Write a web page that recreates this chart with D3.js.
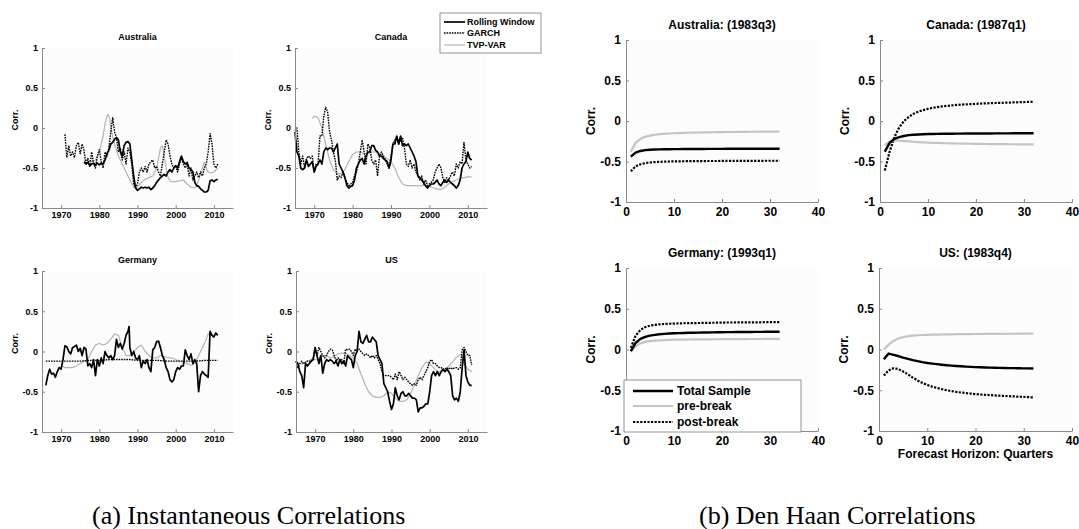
<!DOCTYPE html>
<html>
<head>
<meta charset="utf-8">
<script src="https://cdn.jsdelivr.net/npm/d3@7"></script>
<style>
  body { margin: 0; background: #fff; }
  svg text { font-family: "Liberation Sans", Arial, sans-serif; font-weight: bold; }
  svg text.caption { font-family: "Liberation Serif", "Times New Roman", serif; font-weight: normal; }
</style>
</head>
<body>
<svg id="chart" width="1079" height="529"></svg>
<script>
// ---- tick labels / categories ----
const yearTicks = [1970, 1980, 1990, 2000, 2010];
const horizonTicks = [0, 10, 20, 30, 40];
const corrTicks = [-1, -0.5, 0, 0.5, 1];
const instNames = ["Rolling Window", "GARCH", "TVP-VAR"];
const dhNames = ["Total Sample", "pre-break", "post-break"];
const instTitles = ["Australia", "Canada", "Germany", "US"];
const dhTitles = ["Australia: (1983q3)", "Canada: (1987q1)", "Germany: (1993q1)", "US: (1983q4)"];
const horizons = d3.range(1, 33);

// ---- instantaneous correlations, [year, corr] ----
const ausRolling = [[1976,-0.42],[1976.5,-0.45],[1977,-0.43],[1977.5,-0.47],[1978,-0.45],[1978.5,-0.44],[1979,-0.46],[1979.5,-0.44],[1980,-0.46],[1980.5,-0.44],[1981,-0.45],[1981.5,-0.4],[1982,-0.32],[1982.5,-0.28],[1983,-0.2],[1983.5,-0.18],[1984,-0.14],[1984.5,-0.12],[1985,-0.15],[1985.5,-0.3],[1986,-0.35],[1986.5,-0.22],[1987,-0.18],[1987.5,-0.17],[1988,-0.2],[1988.5,-0.4],[1989,-0.6],[1989.5,-0.75],[1990,-0.78],[1990.5,-0.76],[1991,-0.74],[1991.5,-0.75],[1992,-0.74],[1992.5,-0.75],[1993,-0.74],[1993.5,-0.77],[1994,-0.75],[1994.5,-0.72],[1995,-0.68],[1995.5,-0.65],[1996,-0.62],[1996.5,-0.6],[1997,-0.58],[1997.5,-0.6],[1998,-0.55],[1998.5,-0.52],[1999,-0.55],[1999.5,-0.5],[2000,-0.47],[2000.5,-0.5],[2001,-0.42],[2001.5,-0.35],[2002,-0.42],[2002.5,-0.45],[2003,-0.43],[2003.5,-0.5],[2004,-0.52],[2004.5,-0.55],[2005,-0.68],[2005.5,-0.72],[2006,-0.73],[2006.5,-0.76],[2007,-0.78],[2007.5,-0.8],[2008,-0.8],[2008.5,-0.78],[2009,-0.66],[2009.5,-0.65],[2010,-0.67],[2010.5,-0.65],[2011,-0.64]];
const ausGarch = [[1971,-0.08],[1971.5,-0.37],[1972,-0.22],[1972.5,-0.35],[1973,-0.3],[1973.5,-0.37],[1974,-0.22],[1974.5,-0.18],[1975,-0.32],[1975.5,-0.2],[1976,-0.28],[1976.5,-0.45],[1977,-0.38],[1977.5,-0.48],[1978,-0.3],[1978.5,-0.45],[1979,-0.5],[1979.5,-0.35],[1980,-0.27],[1980.5,-0.42],[1981,-0.5],[1981.5,-0.3],[1982,-0.35],[1982.5,-0.25],[1983,-0.05],[1983.5,0.13],[1984,-0.05],[1984.5,-0.12],[1985,-0.3],[1985.5,-0.25],[1986,-0.4],[1986.5,-0.3],[1987,-0.45],[1987.5,-0.25],[1988,-0.3],[1988.5,-0.45],[1989,-0.7],[1989.5,-0.75],[1990,-0.7],[1990.5,-0.55],[1991,-0.5],[1991.5,-0.55],[1992,-0.48],[1992.5,-0.55],[1993,-0.45],[1993.5,-0.42],[1994,-0.4],[1994.5,-0.5],[1995,-0.48],[1995.5,-0.55],[1996,-0.6],[1996.5,-0.45],[1997,-0.3],[1997.5,-0.15],[1998,-0.2],[1998.5,-0.35],[1999,-0.45],[1999.5,-0.5],[2000,-0.48],[2000.5,-0.55],[2001,-0.45],[2001.5,-0.38],[2002,-0.45],[2002.5,-0.5],[2003,-0.45],[2003.5,-0.6],[2004,-0.5],[2004.5,-0.65],[2005,-0.6],[2005.5,-0.55],[2006,-0.62],[2006.5,-0.55],[2007,-0.6],[2007.5,-0.5],[2008,-0.45],[2008.5,-0.3],[2009,-0.07],[2009.5,-0.2],[2010,-0.45],[2010.5,-0.5],[2011,-0.45]];
const ausTvp = [[1977,-0.4],[1978,-0.42],[1979,-0.4],[1980,-0.3],[1981,-0.1],[1981.5,0.05],[1982,0.15],[1982.3,0.17],[1982.7,0.12],[1983,0.0],[1983.5,-0.1],[1984,-0.2],[1985,-0.35],[1986,-0.45],[1987,-0.55],[1988,-0.65],[1989,-0.74],[1990,-0.74],[1991,-0.68],[1992,-0.64],[1993,-0.62],[1994,-0.6],[1995,-0.5],[1995.5,-0.38],[1996,-0.25],[1996.5,-0.22],[1997,-0.35],[1997.5,-0.5],[1998,-0.62],[1998.5,-0.66],[1999,-0.67],[2000,-0.67],[2001,-0.66],[2002,-0.65],[2003,-0.7],[2004,-0.74],[2005,-0.75],[2005.5,-0.72],[2006,-0.65],[2006.5,-0.58],[2007,-0.5],[2007.5,-0.43],[2008,-0.5],[2008.5,-0.55],[2009,-0.56],[2010,-0.55],[2011,-0.5]];

const canRolling = [[1965,-0.05],[1965.5,-0.3],[1966,-0.35],[1966.5,-0.5],[1967,-0.52],[1967.5,-0.5],[1968,-0.4],[1968.5,-0.48],[1969,-0.45],[1969.5,-0.42],[1970,-0.55],[1970.5,-0.48],[1971,-0.45],[1971.5,-0.4],[1972,-0.45],[1972.5,-0.3],[1973,-0.25],[1973.5,-0.27],[1974,-0.25],[1974.5,-0.25],[1975,-0.3],[1975.5,-0.25],[1976,-0.2],[1976.5,-0.45],[1977,-0.5],[1977.5,-0.55],[1978,-0.62],[1978.5,-0.72],[1979,-0.75],[1979.5,-0.73],[1980,-0.72],[1980.5,-0.65],[1981,-0.5],[1981.5,-0.45],[1982,-0.4],[1982.5,-0.38],[1983,-0.45],[1983.5,-0.35],[1984,-0.3],[1984.5,-0.3],[1985,-0.22],[1985.5,-0.22],[1986,-0.28],[1986.5,-0.3],[1987,-0.35],[1987.5,-0.35],[1988,-0.38],[1988.5,-0.4],[1989,-0.42],[1989.5,-0.5],[1990,-0.4],[1990.5,-0.2],[1991,-0.2],[1991.5,-0.1],[1992,-0.2],[1992.5,-0.1],[1993,-0.22],[1993.5,-0.2],[1994,-0.22],[1994.5,-0.2],[1995,-0.25],[1995.5,-0.3],[1996,-0.35],[1996.5,-0.42],[1997,-0.6],[1997.5,-0.62],[1998,-0.65],[1998.5,-0.68],[1999,-0.72],[1999.5,-0.75],[2000,-0.72],[2000.5,-0.7],[2001,-0.7],[2001.5,-0.68],[2002,-0.65],[2002.5,-0.7],[2003,-0.72],[2003.5,-0.68],[2004,-0.65],[2004.5,-0.68],[2005,-0.65],[2005.5,-0.68],[2006,-0.7],[2006.5,-0.72],[2007,-0.75],[2007.5,-0.72],[2008,-0.65],[2008.5,-0.5],[2009,-0.45],[2009.5,-0.42],[2010,-0.3],[2010.5,-0.38],[2011,-0.4]];
const canGarch = [[1965,-0.03],[1965.5,0.0],[1966,-0.3],[1966.5,-0.45],[1967,-0.35],[1967.5,-0.5],[1968,-0.38],[1968.5,-0.35],[1969,-0.38],[1969.5,-0.35],[1970,-0.55],[1970.5,-0.45],[1971,-0.45],[1971.5,-0.1],[1972,-0.1],[1972.5,0.15],[1973,0.26],[1973.5,0.2],[1974,-0.05],[1974.5,-0.15],[1975,-0.3],[1975.5,-0.4],[1976,-0.65],[1976.5,-0.6],[1977,-0.62],[1977.5,-0.55],[1978,-0.62],[1978.5,-0.68],[1979,-0.72],[1979.5,-0.7],[1980,-0.68],[1980.5,-0.6],[1981,-0.55],[1981.5,-0.45],[1982,-0.3],[1982.5,-0.15],[1983,-0.3],[1983.5,-0.45],[1984,-0.2],[1984.5,-0.25],[1985,-0.4],[1985.5,-0.45],[1986,-0.4],[1986.5,-0.6],[1987,-0.35],[1987.5,-0.3],[1988,-0.35],[1988.5,-0.4],[1989,-0.45],[1989.5,-0.5],[1990,-0.35],[1990.5,-0.2],[1991,-0.15],[1991.5,-0.12],[1992,-0.2],[1992.5,-0.15],[1993,-0.12],[1993.5,-0.25],[1994,-0.45],[1994.5,-0.48],[1995,-0.4],[1995.5,-0.5],[1996,-0.45],[1996.5,-0.55],[1997,-0.6],[1997.5,-0.65],[1998,-0.6],[1998.5,-0.7],[1999,-0.65],[1999.5,-0.72],[2000,-0.7],[2000.5,-0.68],[2001,-0.65],[2001.5,-0.55],[2002,-0.5],[2002.5,-0.45],[2003,-0.5],[2003.5,-0.62],[2004,-0.68],[2004.5,-0.62],[2005,-0.65],[2005.5,-0.6],[2006,-0.55],[2006.5,-0.6],[2007,-0.45],[2007.5,-0.5],[2008,-0.42],[2008.5,-0.45],[2009,-0.18],[2009.5,-0.4],[2010,-0.45],[2010.5,-0.5],[2011,-0.48]];
const canTvp = [[1969.5,0.12],[1970,0.15],[1971,0.13],[1972,0.0],[1973,-0.2],[1974,-0.4],[1975,-0.52],[1976,-0.57],[1977,-0.57],[1978,-0.52],[1979,-0.42],[1980,-0.33],[1981,-0.3],[1982,-0.3],[1983,-0.32],[1984,-0.32],[1985,-0.3],[1986,-0.3],[1987,-0.32],[1988,-0.35],[1989,-0.38],[1990,-0.42],[1991,-0.5],[1992,-0.62],[1993,-0.7],[1994,-0.72],[1995,-0.72],[1996,-0.72],[1997,-0.72],[1998,-0.72],[1999,-0.72],[2000,-0.73],[2001,-0.75],[2002,-0.76],[2003,-0.77],[2004,-0.74],[2005,-0.7],[2006,-0.67],[2007,-0.65],[2008,-0.63],[2009,-0.62],[2010,-0.61],[2011,-0.61]];

const gerRolling = [[1966,-0.42],[1966.5,-0.3],[1967,-0.22],[1967.5,-0.28],[1968,-0.27],[1968.5,-0.32],[1969,-0.25],[1969.5,-0.2],[1970,-0.22],[1970.5,-0.1],[1971,0.07],[1971.5,0.06],[1972,0.0],[1972.5,-0.03],[1973,0.05],[1973.5,0.06],[1974,0.08],[1974.5,0.0],[1975,0.04],[1975.5,-0.05],[1976,0.05],[1976.5,0.03],[1977,-0.18],[1977.5,-0.15],[1978,-0.2],[1978.5,-0.1],[1979,-0.3],[1979.5,-0.1],[1980,-0.18],[1980.5,-0.08],[1981,-0.15],[1981.5,0.0],[1982,-0.05],[1982.5,-0.08],[1983,-0.05],[1983.5,-0.1],[1984,-0.05],[1984.5,0.15],[1985,0.05],[1985.5,0.1],[1986,0.03],[1986.5,0.1],[1987,0.2],[1987.5,0.25],[1987.8,0.31],[1988,0.05],[1988.5,-0.05],[1989,0.0],[1989.5,-0.08],[1990,-0.1],[1990.5,-0.05],[1991,-0.2],[1991.5,-0.12],[1992,-0.15],[1992.5,-0.1],[1993,-0.2],[1993.5,-0.25],[1994,0.02],[1994.5,0.05],[1995,0.12],[1995.5,0.13],[1996,0.05],[1996.5,-0.05],[1997,-0.1],[1997.5,-0.2],[1998,-0.25],[1998.5,-0.35],[1999,-0.38],[1999.5,-0.35],[2000,-0.25],[2000.5,-0.2],[2001,-0.22],[2001.5,-0.18],[2002,-0.18],[2002.5,0.02],[2003,-0.05],[2003.5,-0.1],[2004,-0.03],[2004.5,-0.15],[2005,-0.1],[2005.5,-0.15],[2006,-0.5],[2006.5,-0.3],[2007,-0.25],[2007.5,-0.28],[2008,-0.3],[2008.5,-0.32],[2009,0.25],[2009.5,0.2],[2010,0.18],[2010.5,0.23],[2011,0.2]];
const gerGarch = [[1966,-0.12],[1968,-0.12],[1970,-0.12],[1972,-0.12],[1975,-0.12],[1978,-0.11],[1980,-0.11],[1983,-0.1],[1985,-0.1],[1988,-0.1],[1990,-0.11],[1993,-0.11],[1995,-0.11],[1998,-0.12],[2000,-0.12],[2003,-0.12],[2005,-0.12],[2008,-0.11],[2011,-0.11]];
const gerTvp = [[1970,-0.17],[1971,-0.2],[1972,-0.2],[1973,-0.2],[1974,-0.18],[1975,-0.15],[1976,-0.12],[1977,-0.1],[1978,0.0],[1979,0.08],[1980,0.1],[1981,0.08],[1982,0.1],[1983,0.15],[1984,0.22],[1985,0.2],[1986,0.05],[1987,-0.05],[1988,-0.05],[1989,0.0],[1990,0.05],[1991,0.08],[1992,0.0],[1993,-0.05],[1994,-0.08],[1995,-0.08],[1996,-0.05],[1997,-0.06],[1998,-0.08],[1999,-0.08],[2000,-0.1],[2001,-0.12],[2002,-0.13],[2003,-0.15],[2004,-0.17],[2005,-0.15],[2006,-0.05],[2007,0.05],[2008,0.15],[2008.5,0.22],[2009,0.2]];

const usRolling = [[1965,-0.12],[1965.5,-0.15],[1966,-0.25],[1966.5,-0.3],[1967,-0.45],[1967.5,-0.15],[1968,-0.18],[1968.5,-0.15],[1969,-0.12],[1969.5,-0.1],[1970,0.05],[1970.5,-0.05],[1971,-0.15],[1971.5,-0.05],[1972,-0.27],[1972.5,-0.15],[1973,-0.1],[1973.5,-0.12],[1974,-0.1],[1974.5,-0.12],[1975,-0.15],[1975.5,-0.12],[1976,-0.18],[1976.5,-0.1],[1977,-0.15],[1977.5,-0.12],[1978,-0.18],[1978.5,-0.05],[1979,-0.08],[1979.5,-0.1],[1980,-0.2],[1980.5,-0.05],[1981,0.0],[1981.5,0.25],[1982,0.12],[1982.5,0.1],[1983,0.15],[1983.5,0.2],[1984,0.12],[1984.5,0.12],[1985,0.18],[1985.5,0.15],[1986,0.12],[1986.5,-0.05],[1987,-0.1],[1987.5,-0.15],[1988,-0.4],[1988.5,-0.45],[1989,-0.5],[1989.5,-0.62],[1990,-0.72],[1990.5,-0.65],[1991,-0.45],[1991.5,-0.55],[1992,-0.6],[1992.5,-0.52],[1993,-0.5],[1993.5,-0.55],[1994,-0.55],[1994.5,-0.52],[1995,-0.55],[1995.5,-0.58],[1996,-0.58],[1996.5,-0.6],[1997,-0.75],[1997.5,-0.7],[1998,-0.7],[1998.5,-0.68],[1999,-0.65],[1999.5,-0.65],[2000,-0.5],[2000.5,-0.3],[2001,-0.25],[2001.5,-0.3],[2002,-0.25],[2002.5,-0.3],[2003,-0.25],[2003.5,-0.22],[2004,-0.25],[2004.5,-0.22],[2005,-0.25],[2005.5,-0.3],[2006,-0.55],[2006.5,-0.6],[2007,-0.58],[2007.5,-0.62],[2008,-0.5],[2008.5,-0.2],[2009,0.02],[2009.5,-0.3],[2010,-0.38],[2010.5,-0.42],[2011,-0.42]];
const usGarch = [[1965,-0.12],[1965.5,-0.2],[1966,-0.15],[1966.5,-0.12],[1967,-0.15],[1968,-0.12],[1969,-0.12],[1969.5,-0.08],[1970,0.03],[1970.5,-0.05],[1971,0.05],[1971.5,0.0],[1972,-0.05],[1972.5,-0.08],[1973,-0.05],[1973.5,0.0],[1974,0.03],[1974.5,0.02],[1975,-0.05],[1975.5,-0.12],[1976,-0.08],[1976.5,-0.12],[1977,-0.1],[1977.5,-0.15],[1978,0.03],[1978.5,0.02],[1979,0.03],[1979.5,0.0],[1980,-0.05],[1980.5,0.03],[1981,0.0],[1981.5,0.03],[1982,0.0],[1982.5,-0.03],[1983,-0.05],[1983.5,-0.03],[1984,-0.05],[1984.5,-0.08],[1985,-0.05],[1985.5,-0.08],[1986,-0.05],[1986.5,-0.1],[1987,-0.15],[1987.5,-0.25],[1988,-0.3],[1988.5,-0.3],[1989,-0.3],[1989.5,-0.3],[1990,-0.32],[1990.5,-0.35],[1991,-0.28],[1991.5,-0.35],[1992,-0.25],[1992.5,-0.3],[1993,-0.35],[1993.5,-0.32],[1994,-0.35],[1994.5,-0.38],[1995,-0.4],[1995.5,-0.42],[1996,-0.4],[1996.5,-0.42],[1997,-0.35],[1997.5,-0.32],[1998,-0.35],[1998.5,-0.3],[1999,-0.25],[1999.5,-0.2],[2000,-0.12],[2000.5,-0.1],[2001,-0.15],[2001.5,-0.15],[2002,-0.18],[2002.5,-0.2],[2003,-0.2],[2003.5,-0.22],[2004,-0.22],[2004.5,-0.2],[2005,-0.22],[2005.5,-0.2],[2006,-0.22],[2006.5,-0.2],[2007,-0.2],[2007.5,-0.22],[2008,-0.2],[2008.5,0.02],[2009,0.05],[2009.5,0.0],[2010,-0.05],[2010.5,-0.05],[2011,-0.17]];
const usTvp = [[1966,-0.15],[1967,-0.15],[1968,-0.12],[1969,-0.1],[1970,-0.1],[1971,-0.08],[1972,-0.05],[1973,-0.05],[1974,-0.08],[1975,-0.06],[1976,-0.03],[1977,-0.02],[1978,-0.02],[1979,-0.05],[1980,-0.08],[1981,-0.15],[1982,-0.28],[1983,-0.4],[1984,-0.5],[1985,-0.55],[1986,-0.57],[1987,-0.57],[1988,-0.55],[1989,-0.5],[1990,-0.52],[1991,-0.58],[1992,-0.62],[1993,-0.62],[1994,-0.6],[1995,-0.52],[1996,-0.42],[1997,-0.3],[1998,-0.2],[1999,-0.13],[2000,-0.15],[2001,-0.2],[2002,-0.25],[2003,-0.25],[2004,-0.22],[2005,-0.18],[2006,-0.13],[2007,-0.07],[2008,-0.04],[2008.5,-0.05],[2009,-0.15],[2010,-0.22],[2011,-0.25]];

// ---- Den Haan correlations, horizon 1..32 ----
const ausTotal = [-0.44,-0.39,-0.37,-0.36,-0.355,-0.352,-0.35,-0.349,-0.348,-0.347,-0.347,-0.346,-0.346,-0.345,-0.345,-0.345,-0.344,-0.344,-0.344,-0.344,-0.343,-0.343,-0.343,-0.343,-0.343,-0.342,-0.342,-0.342,-0.342,-0.342,-0.342,-0.342];
const ausPre = [-0.38,-0.27,-0.22,-0.195,-0.18,-0.17,-0.163,-0.158,-0.154,-0.151,-0.149,-0.147,-0.145,-0.144,-0.142,-0.141,-0.14,-0.139,-0.138,-0.137,-0.136,-0.136,-0.135,-0.134,-0.134,-0.133,-0.133,-0.132,-0.132,-0.131,-0.131,-0.13];
const ausPost = [-0.62,-0.56,-0.535,-0.52,-0.512,-0.507,-0.504,-0.502,-0.5,-0.499,-0.498,-0.497,-0.496,-0.496,-0.495,-0.495,-0.494,-0.494,-0.494,-0.493,-0.493,-0.493,-0.493,-0.492,-0.492,-0.492,-0.492,-0.492,-0.491,-0.491,-0.491,-0.491];
const canTotal = [-0.38,-0.27,-0.22,-0.2,-0.185,-0.175,-0.17,-0.166,-0.163,-0.161,-0.16,-0.159,-0.158,-0.157,-0.157,-0.156,-0.156,-0.155,-0.155,-0.155,-0.154,-0.154,-0.154,-0.153,-0.153,-0.153,-0.153,-0.152,-0.152,-0.152,-0.152,-0.151];
const canPre = [-0.3,-0.25,-0.24,-0.243,-0.248,-0.252,-0.256,-0.26,-0.263,-0.266,-0.269,-0.271,-0.273,-0.275,-0.277,-0.278,-0.279,-0.28,-0.281,-0.282,-0.283,-0.284,-0.285,-0.285,-0.286,-0.286,-0.287,-0.287,-0.288,-0.288,-0.288,-0.289];
const canPost = [-0.61,-0.38,-0.2,-0.08,0.0,0.05,0.09,0.115,0.135,0.15,0.162,0.172,0.18,0.187,0.193,0.198,0.202,0.206,0.209,0.212,0.215,0.218,0.22,0.222,0.224,0.226,0.228,0.23,0.232,0.234,0.236,0.238];
const gerTotal = [-0.02,0.08,0.13,0.155,0.17,0.18,0.187,0.192,0.196,0.199,0.201,0.203,0.205,0.206,0.207,0.208,0.209,0.21,0.211,0.212,0.213,0.213,0.214,0.214,0.215,0.215,0.216,0.216,0.217,0.217,0.218,0.218];
const gerPre = [-0.03,0.04,0.075,0.093,0.103,0.109,0.113,0.116,0.118,0.12,0.121,0.122,0.123,0.124,0.124,0.125,0.125,0.126,0.126,0.127,0.127,0.127,0.128,0.128,0.128,0.129,0.129,0.129,0.13,0.13,0.13,0.13];
const gerPost = [0.02,0.17,0.24,0.275,0.293,0.303,0.309,0.313,0.316,0.318,0.32,0.322,0.323,0.324,0.325,0.326,0.327,0.328,0.329,0.33,0.331,0.331,0.332,0.332,0.333,0.333,0.334,0.334,0.335,0.335,0.336,0.336];
const usTotal = [-0.12,-0.05,-0.065,-0.08,-0.1,-0.115,-0.13,-0.143,-0.155,-0.165,-0.173,-0.18,-0.187,-0.193,-0.198,-0.202,-0.206,-0.21,-0.213,-0.216,-0.218,-0.22,-0.222,-0.224,-0.225,-0.227,-0.228,-0.229,-0.23,-0.231,-0.232,-0.233];
const usPre = [0.0,0.06,0.105,0.135,0.152,0.163,0.17,0.175,0.178,0.18,0.182,0.183,0.184,0.185,0.186,0.187,0.188,0.189,0.189,0.19,0.19,0.191,0.191,0.192,0.192,0.193,0.193,0.193,0.194,0.194,0.194,0.195];
const usPost = [-0.32,-0.255,-0.23,-0.24,-0.27,-0.305,-0.345,-0.38,-0.41,-0.435,-0.455,-0.472,-0.487,-0.5,-0.511,-0.52,-0.528,-0.535,-0.541,-0.547,-0.552,-0.556,-0.56,-0.564,-0.567,-0.57,-0.573,-0.576,-0.579,-0.582,-0.585,-0.588];

// line looks: solid black, dotted black, light gray
const instStyles = [
    { color: "#000", width: 1.7, dash: null },
    { color: "#000", width: 1.4, dash: "1.6,1" },
    { color: "#b4b4b4", width: 1.2, dash: null }
];
const dhStyles = [
    { color: "#000", width: 2.4, dash: null },
    { color: "#c4c4c4", width: 2.2, dash: null },
    { color: "#000", width: 2.2, dash: "2.2,1.4" }
];

const svg = d3.select("#chart");
svg.append("rect").attr("width", 1079).attr("height", 529).attr("fill", "#fff");

function drawPanel(p) {
    const x = d3.scaleLinear().domain(p.xDomain).range([p.left, p.right]);
    const y = d3.scaleLinear().domain([-1, 1]).range([p.bottom, p.top]);
    const g = svg.append("g");

    g.append("rect")
        .attr("x", p.left).attr("y", p.top)
        .attr("width", p.right - p.left).attr("height", p.bottom - p.top)
        .attr("fill", "#fcfcfc");

    const line = d3.line().x(d => x(d[0])).y(d => y(d[1]));

    // draw in reverse so the solid line sits on top
    p.series.slice().reverse().forEach((s, i) => {
        const st = p.styles[p.series.length - 1 - i];
        g.append("path")
            .attr("d", line(s))
            .attr("fill", "none")
            .attr("stroke", st.color)
            .attr("stroke-width", st.width)
            .attr("stroke-dasharray", st.dash)
            .attr("stroke-linejoin", "round");
    });

    const xAxis = g.append("g")
        .attr("transform", `translate(0,${p.bottom})`)
        .call(d3.axisBottom(x).tickValues(p.xTicks).tickSize(-3).tickSizeOuter(0)
            .tickPadding(p.pad).tickFormat(d => String(d)));
    const yAxis = g.append("g")
        .attr("transform", `translate(${p.left},0)`)
        .call(d3.axisLeft(y).tickValues(corrTicks).tickSize(-3).tickSizeOuter(0)
            .tickPadding(p.pad).tickFormat(d => String(d)));

    [xAxis, yAxis].forEach(a => {
        a.select(".domain").attr("stroke", "#8a8a8a");
        a.selectAll(".tick line").attr("stroke", "#8a8a8a");
        a.selectAll(".tick text")
            .attr("fill", "#000")
            .style("font-size", p.font + "px")
            .style("font-family", "'Liberation Sans', Arial, sans-serif")
            .style("font-weight", "bold");
    });

    g.append("text")
        .attr("x", (p.left + p.right) / 2)
        .attr("y", p.titleY)
        .attr("text-anchor", "middle")
        .style("font-size", p.font + "px")
        .text(p.title);

    g.append("text")
        .attr("transform", `translate(${p.left - p.labelGap},${(p.top + p.bottom) / 2 - p.labelShift}) rotate(-90)`)
        .attr("text-anchor", "middle")
        .attr("dy", "0.35em")
        .style("font-size", p.font + "px")
        .text("Corr.");
}

// (a) instantaneous panels
const instSeries = [
    [ausRolling, ausGarch, ausTvp],
    [canRolling, canGarch, canTvp],
    [gerRolling, gerGarch, gerTvp],
    [usRolling, usGarch, usTvp]
];
const instBoxes = [
    { left: 42, right: 233, top: 48, bottom: 208, titleY: 40 },
    { left: 295, right: 487, top: 48, bottom: 208, titleY: 40 },
    { left: 42, right: 233, top: 271, bottom: 432, titleY: 263 },
    { left: 296, right: 487, top: 271, bottom: 432, titleY: 263 }
];
instBoxes.forEach((b, i) => drawPanel(Object.assign({}, b, {
    xDomain: [1965, 2015], xTicks: yearTicks, font: 9, pad: 4,
    labelGap: 27, labelShift: 8,
    title: instTitles[i], series: instSeries[i], styles: instStyles
})));

// (b) Den Haan panels
const dhSeries = [
    [ausTotal, ausPre, ausPost],
    [canTotal, canPre, canPost],
    [gerTotal, gerPre, gerPost],
    [usTotal, usPre, usPost]
].map(set => set.map(vals => vals.map((v, i) => [horizons[i], v])));
const dhBoxes = [
    { left: 626, right: 818, top: 40, bottom: 202, titleY: 29 },
    { left: 880, right: 1072, top: 40, bottom: 202, titleY: 29 },
    { left: 626, right: 818, top: 268, bottom: 431, titleY: 257 },
    { left: 879, right: 1072, top: 268, bottom: 431, titleY: 257 }
];
dhBoxes.forEach((b, i) => drawPanel(Object.assign({}, b, {
    xDomain: [0, 40], xTicks: horizonTicks, font: 12, pad: 5,
    labelGap: 35, labelShift: 0,
    title: dhTitles[i], series: dhSeries[i], styles: dhStyles
})));

svg.append("text")
    .attr("x", (879 + 1072) / 2)
    .attr("y", 458)
    .attr("text-anchor", "middle")
    .style("font-size", "12px")
    .text("Forecast Horizon: Quarters");

// legends
function drawLegend(box, names, styles, font, rowY, lineX0, lineX1, textX) {
    const g = svg.append("g");
    g.append("rect")
        .attr("x", box.x).attr("y", box.y).attr("width", box.w).attr("height", box.h)
        .attr("fill", "#fff").attr("stroke", "#7a7a7a").attr("stroke-width", 0.8);
    names.forEach((n, i) => {
        const st = styles[i];
        g.append("line")
            .attr("x1", lineX0).attr("x2", lineX1)
            .attr("y1", rowY[i]).attr("y2", rowY[i])
            .attr("stroke", st.color).attr("stroke-width", st.width)
            .attr("stroke-dasharray", st.dash);
        g.append("text")
            .attr("x", textX).attr("y", rowY[i]).attr("dy", "0.35em")
            .style("font-size", font + "px")
            .text(n);
    });
}
drawLegend({ x: 440, y: 13, w: 101, h: 40 }, instNames, instStyles, 9, [22, 33, 45], 444, 465, 467);
drawLegend({ x: 624, y: 380, w: 177, h: 52 }, dhNames, dhStyles, 12, [391, 406, 422], 633, 673, 677);

// captions
svg.append("text").attr("class", "caption")
    .attr("x", 92).attr("y", 524).style("font-size", "26px")
    .text("(a) Instantaneous Correlations");
svg.append("text").attr("class", "caption")
    .attr("x", 699).attr("y", 524).style("font-size", "26px")
    .text("(b) Den Haan Correlations");
</script>
</body>
</html>
